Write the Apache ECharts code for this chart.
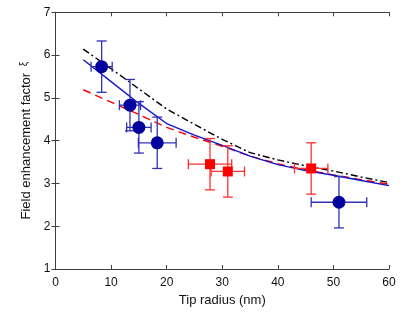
<!DOCTYPE html>
<html>
<head>
<meta charset="utf-8">
<script src="https://cdn.jsdelivr.net/npm/echarts@6/dist/echarts.min.js"></script>
<style>html,body{margin:0;padding:0;background:#fff}#c{width:415px;height:312px}</style>
</head>
<body>
<div id="c"></div>
<script>
// ---- data ----
const curveX = [5, 10, 15, 20, 25, 30, 35, 40, 45, 50, 55, 60];
const blackCurve = [6.14, 5.68, 5.21, 4.74, 4.38, 4.03, 3.72, 3.55, 3.41, 3.29, 3.15, 3.02];
const blueCurve  = [5.89, 5.38, 4.87, 4.40, 4.13, 3.89, 3.64, 3.44, 3.30, 3.19, 3.07, 2.95];
const redCurve   = [5.19, 4.90, 4.61, 4.31, 4.08, 3.87, 3.64, 3.46, 3.32, 3.20, 3.09, 2.98];

const blueX    = [8.3, 13.4, 15.0, 18.3, 51.0];
const blueY    = [5.73, 4.83, 4.31, 3.95, 2.56];
const blueXErr = [1.9, 1.9, 2.2, 3.4, 5.0];
const blueYErr = [0.6, 0.6, 0.6, 0.6, 0.6];

const redX    = [27.8, 31.0, 46.0];
const redY    = [3.45, 3.28, 3.35];
const redXErr = [3.9, 3.0, 3.0];
const redYErr = [0.6, 0.6, 0.6];

const xTicks = [0, 10, 20, 30, 40, 50, 60];
const yTicks = [1, 2, 3, 4, 5, 6, 7];

// ---- build ----
const zip = (a, b) => a.map((v, i) => [v, b[i]]);
const errData = (x, y, ex, ey) => x.map((v, i) => [v, y[i], ex[i], ey[i]]);

function errRender(color) {
  return function (params, api) {
    const x = api.value(0), y = api.value(1), ex = api.value(2), ey = api.value(3);
    const l = api.coord([x - ex, y]), r = api.coord([x + ex, y]);
    const t = api.coord([x, y + ey]), b = api.coord([x, y - ey]);
    const cap = 5;
    const st = { stroke: color, lineWidth: 1.3 };
    const ln = (x1, y1, x2, y2) => ({ type: 'line', shape: { x1, y1, x2, y2 }, style: st });
    return {
      type: 'group',
      children: [
        ln(l[0], l[1], r[0], r[1]),
        ln(t[0], t[1], b[0], b[1]),
        ln(l[0], l[1] - cap, l[0], l[1] + cap),
        ln(r[0], r[1] - cap, r[0], r[1] + cap),
        ln(t[0] - cap, t[1], t[0] + cap, t[1]),
        ln(b[0] - cap, b[1], b[0] + cap, b[1])
      ]
    };
  };
}

const axisCol = '#404040';
const font = 'Liberation Sans, Arial, sans-serif';

const chart = echarts.init(document.getElementById('c'), null, { renderer: 'canvas' });
chart.setOption({
  animation: false,
  backgroundColor: '#fff',
  grid: { left: 55.5, right: 26, top: 12.3, bottom: 36 },
  xAxis: [{
    type: 'value', min: 0, max: 60, interval: 10, position: 'bottom',
    name: 'Tip radius (nm)', nameLocation: 'middle', nameGap: 25,
    nameTextStyle: { fontFamily: font, fontSize: 13, color: '#111' },
    axisLine: { lineStyle: { color: axisCol, width: 1 } },
    axisTick: { inside: true, length: 4, lineStyle: { color: axisCol } },
    axisLabel: { fontFamily: font, fontSize: 12, color: '#111', margin: 8,
      formatter: v => xTicks.includes(v) ? String(v) : '' },
    splitLine: { show: false }
  }, {
    type: 'value', min: 0, max: 60, interval: 10, position: 'top',
    axisLine: { show: true, lineStyle: { color: axisCol, width: 1 } },
    axisTick: { inside: true, length: 4, lineStyle: { color: axisCol } },
    axisLabel: { show: false }, splitLine: { show: false }
  }],
  yAxis: [{
    type: 'value', min: 1, max: 7, interval: 1, position: 'left',
    name: 'Field enhancement factor {xi|ξ}', nameLocation: 'middle', nameGap: 21,
    nameTextStyle: { fontFamily: font, fontSize: 13, color: '#111',
      rich: { xi: { fontSize: 10, fontFamily: font, color: '#111', padding: [0, 0, 4, 3] } } },
    axisLine: { show: true, lineStyle: { color: axisCol, width: 1 } },
    axisTick: { inside: true, length: 4, lineStyle: { color: axisCol } },
    axisLabel: { fontFamily: font, fontSize: 12, color: '#111', margin: 5,
      formatter: v => yTicks.includes(v) ? String(v) : '' },
    splitLine: { show: false }
  }, {
    type: 'value', min: 1, max: 7, interval: 1, position: 'right',
    axisLine: { show: true, lineStyle: { color: axisCol, width: 1 } },
    axisTick: { inside: true, length: 4, lineStyle: { color: axisCol } },
    axisLabel: { show: false }, splitLine: { show: false }
  }],
  series: [
    { type: 'line', data: zip(curveX, redCurve), showSymbol: false, symbol: 'none',
      lineStyle: { color: '#ff0000', width: 1.4, type: [8, 5] }, z: 2 },
    { type: 'line', data: zip(curveX, blueCurve), showSymbol: false, symbol: 'none',
      lineStyle: { color: '#1414c8', width: 1.4 }, z: 2 },
    { type: 'line', data: zip(curveX, blackCurve), showSymbol: false, symbol: 'none',
      lineStyle: { color: '#000000', width: 1.4, type: [7, 3, 2, 3] }, z: 2 },
    { type: 'custom', data: errData(redX, redY, redXErr, redYErr), renderItem: errRender('#ff3030'),
      encode: { x: 0, y: 1 }, z: 3 },
    { type: 'custom', data: errData(blueX, blueY, blueXErr, blueYErr), renderItem: errRender('#3030b8'),
      encode: { x: 0, y: 1 }, z: 3 },
    { type: 'scatter', data: zip(redX, redY), symbol: 'rect', symbolSize: 10,
      itemStyle: { color: '#ff0000', opacity: 1 }, z: 4 },
    { type: 'scatter', data: zip(blueX, blueY), symbol: 'circle', symbolSize: 13,
      itemStyle: { color: '#00009c', opacity: 1 }, z: 4 }
  ]
});
</script>
</body>
</html>
